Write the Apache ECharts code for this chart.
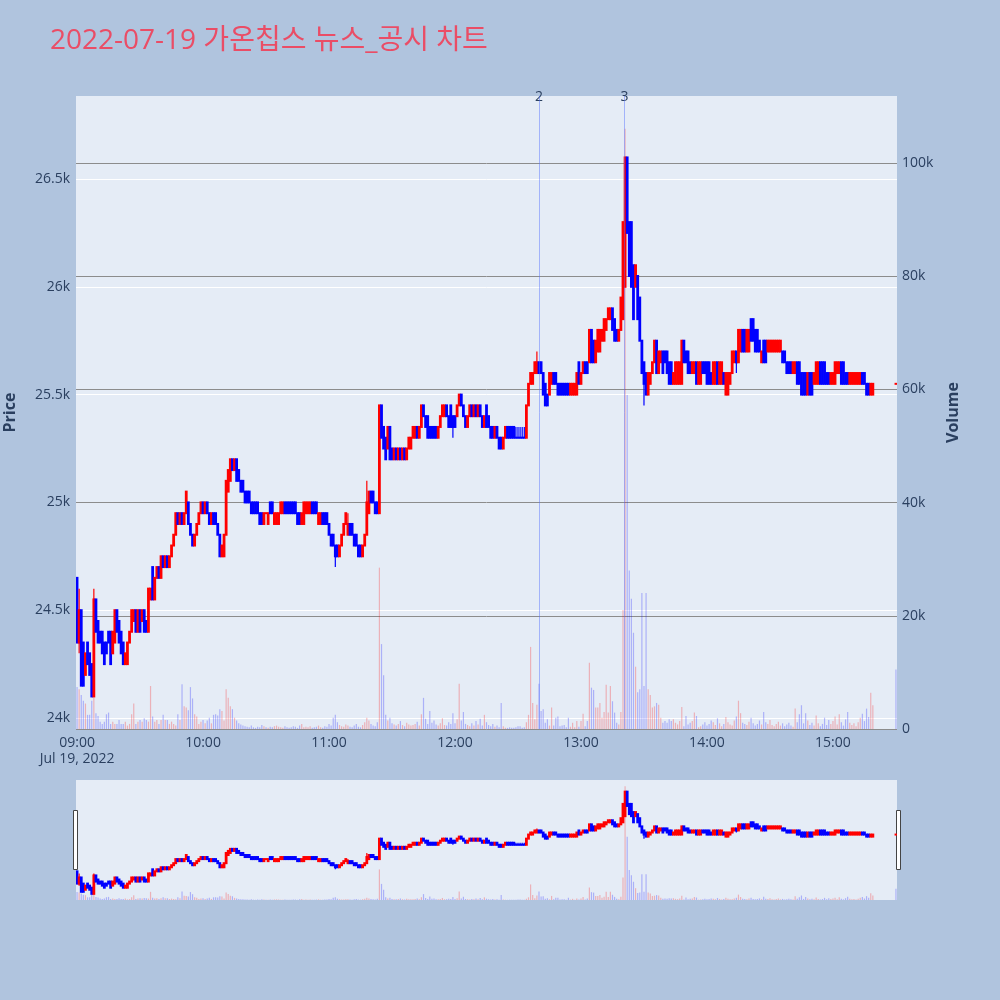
<!DOCTYPE html>
<html>
<head>
<meta charset="utf-8">
<script src="https://cdn.jsdelivr.net/npm/echarts@6/dist/echarts.min.js"></script>
<style>
  html, body { margin: 0; padding: 0; background: #b0c4de; }
  #chart { width: 1000px; height: 1000px; }
</style>
</head>
<body>
<div id="chart"></div>
<script>
// 1분봉, 09:00 ~ 15:19 + 종가 15:30
const times = [];
for (let m = 0; m < 380; m++) {
  const h = 9 + Math.floor(m / 60), mm = m % 60;
  times.push(String(h).padStart(2, '0') + ':' + String(mm).padStart(2, '0'));
}
times.push('15:30');

const opens = [
  24650,24350,24500,24350,24200,24350,24300,24250,24100,24550,
  24450,24400,24400,24350,24350,24400,24400,24300,24350,24500,
  24450,24400,24350,24250,24250,24350,24400,24450,24500,24400,
  24500,24450,24500,24450,24400,24550,24700,24550,24650,24700,
  24650,24750,24700,24750,24700,24750,24800,24850,24950,24900,
  24950,24900,24950,25000,24900,24850,24800,24850,24900,24950,
  25000,24950,25000,24950,24900,24950,24950,24900,24850,24750,
  24750,24850,25050,25100,25200,25150,25200,25150,25100,25100,
  25050,25050,25050,25000,25000,25000,25000,24950,24950,24900,
  24950,24900,25000,25000,24900,24900,24900,24950,24950,25000,
  25000,25000,25000,25000,25000,24950,24950,24900,24900,24950,
  24950,24950,25000,25000,25000,24900,24900,24950,24950,24950,
  24900,24850,24850,24800,24800,24750,24800,24850,24900,24850,
  24900,24900,24850,24850,24800,24800,24750,24800,24850,24950,
  25050,25050,25000,25000,24950,25450,25350,25300,25250,25350,
  25250,25200,25250,25200,25250,25200,25250,25200,25250,25250,
  25300,25300,25350,25300,25350,25450,25400,25400,25350,25350,
  25350,25350,25300,25350,25400,25400,25450,25400,25450,25400,
  25400,25400,25450,25500,25450,25400,25350,25400,25450,25400,
  25450,25400,25450,25400,25350,25450,25400,25350,25350,25300,
  25350,25300,25300,25250,25300,25350,25350,25350,25350,25300,
  25300,25300,25300,25300,25300,25450,25550,25550,25600,25600,
  25650,25650,25600,25550,25500,25500,25550,25600,25600,25550,
  25550,25550,25550,25550,25550,25500,25500,25500,25500,25650,
  25550,25600,25650,25650,25650,25800,25750,25650,25700,25700,
  25750,25750,25800,25850,25850,25900,25850,25800,25750,25800,
  25850,26000,26600,26300,26300,26100,26000,26050,25950,25750,
  25650,25600,25500,25550,25600,25650,25750,25600,25650,25700,
  25700,25700,25650,25650,25550,25550,25550,25550,25550,25750,
  25700,25700,25650,25600,25600,25650,25550,25550,25650,25650,
  25650,25650,25600,25550,25550,25650,25550,25550,25600,25500,
  25500,25550,25600,25650,25700,25650,25700,25800,25800,25700,
  25700,25850,25850,25800,25800,25750,25650,25750,25750,25700,
  25700,25700,25700,25700,25700,25700,25700,25700,25650,25650,
  25650,25600,25600,25650,25650,25600,25600,25600,25500,25600,
  25600,25550,25550,25550,25650,25650,25650,25600,25600,25550,
  25550,25550,25600,25600,25650,25650,25600,25600,25550,25550,
  25550,25550,25550,25550,25600,25600,25550,25550,25500,25500,
  25550
];

const closes = [
  24350,24500,24150,24150,24300,24250,24200,24100,24550,24400,
  24350,24350,24300,24250,24300,24350,24250,24400,24500,24400,
  24350,24300,24250,24300,24350,24400,24500,24500,24400,24500,
  24400,24500,24400,24400,24600,24600,24550,24650,24700,24650,
  24750,24700,24750,24700,24750,24800,24850,24950,24900,24950,
  24900,24950,25050,24900,24850,24800,24850,24900,24950,25000,
  24950,25000,24950,24900,24950,24900,24900,24850,24750,24800,
  24850,25100,25150,25200,25150,25200,25100,25100,25050,25050,
  25000,25000,25000,24950,24950,24950,24950,24900,24900,24950,
  24950,24950,24950,24950,24950,24950,24950,25000,25000,24950,
  24950,24950,24950,24950,24950,24900,24900,24950,25000,25000,
  25000,25000,24950,24950,24950,24950,24950,24900,24900,24900,
  24850,24800,24800,24750,24750,24800,24850,24900,24950,24900,
  24850,24850,24800,24800,24750,24750,24800,24850,25000,25050,
  25000,25000,24950,24950,25450,25300,25250,25200,25350,25200,
  25200,25250,25200,25250,25200,25250,25200,25250,25300,25300,
  25350,25350,25300,25350,25450,25400,25350,25300,25300,25300,
  25300,25300,25350,25400,25450,25450,25400,25350,25350,25350,
  25350,25450,25500,25450,25400,25350,25400,25450,25400,25450,
  25400,25450,25400,25350,25400,25350,25350,25300,25300,25350,
  25300,25250,25250,25300,25350,25300,25300,25300,25300,25300,
  25300,25300,25300,25300,25450,25550,25600,25600,25650,25650,
  25600,25600,25500,25450,25450,25600,25600,25550,25550,25500,
  25500,25500,25500,25500,25500,25550,25550,25550,25600,25550,
  25600,25650,25600,25600,25800,25650,25650,25750,25800,25800,
  25800,25850,25850,25900,25900,25800,25750,25750,25800,25950,
  26300,26600,26250,26050,26000,25850,26100,25850,25750,25600,
  25550,25500,25600,25600,25650,25750,25600,25700,25700,25600,
  25650,25600,25550,25550,25600,25650,25650,25650,25750,25650,
  25650,25600,25600,25650,25650,25550,25650,25650,25600,25600,
  25550,25550,25550,25650,25650,25550,25650,25650,25550,25600,
  25600,25600,25700,25700,25650,25800,25800,25700,25700,25800,
  25800,25750,25750,25700,25700,25700,25700,25650,25650,25750,
  25750,25750,25750,25750,25750,25750,25650,25650,25600,25600,
  25600,25650,25650,25550,25550,25500,25500,25500,25600,25500,
  25500,25600,25650,25650,25550,25550,25550,25550,25550,25600,
  25600,25650,25650,25650,25550,25550,25550,25550,25600,25600,
  25600,25600,25600,25600,25550,25550,25500,25500,25550,25550,
  25550
];

// 꼬리 [index, low, high]
const wicks = [
  [1, 24300, 24600], [8, 24100, 24600], [36, 24550, 24700], [123, 24700, 24800],
  [129, 24850, 24950], [138, 24850, 25100], [179, 25300, 25400],
  [209, 25300, 25350], [210, 25300, 25350], [211, 25300, 25350], [212, 25300, 25350],
  [213, 25300, 25350], [219, 25600, 25700], [270, 25450, 25650], [314, 25600, 25700]
];

const volumes = [
  7400,7000,6000,5000,4500,2500,2500,5000,5500,2800,
  2300,1300,900,1300,2600,2900,900,1300,900,900,
  1600,900,900,1300,600,900,2600,4500,900,1300,
  1600,1300,1900,1600,1300,7600,2200,1300,1600,900,
  1600,2500,1600,1600,900,1300,900,600,2600,1600,
  7900,4000,3800,3300,7400,5400,2600,2200,900,1300,
  1600,1000,1500,2000,1000,2500,2600,2400,3500,3200,
  1500,7000,5500,4000,3500,2000,1500,1000,800,600,
  500,400,300,600,300,200,400,300,700,500,
  300,200,400,300,500,600,400,300,200,500,
  300,200,300,500,400,200,600,900,300,400,
  300,500,200,300,400,600,300,200,500,400,
  900,600,2000,2500,1200,700,500,400,800,600,
  400,300,600,900,400,300,700,1200,2000,1500,
  900,600,500,1200,28500,15000,9500,2500,1500,2000,
  1000,800,600,900,1400,700,500,1100,800,600,
  700,900,1300,600,2600,5500,1800,900,3200,1100,
  1500,800,600,1000,1900,700,600,1200,900,2800,
  1000,1700,8000,1500,3000,900,700,500,1000,600,
  1400,800,1800,600,2500,1200,700,500,900,400,
  600,300,4600,500,200,200,300,200,200,300,
  500,500,200,300,1200,2500,14500,4600,1700,4300,
  8000,3200,3500,1100,1700,600,3800,600,2000,2200,
  500,600,700,300,2000,400,1100,300,1400,400,
  1400,2700,500,1400,11700,7300,6900,3800,3800,4600,
  2000,3000,7800,2900,7600,4900,2900,1100,800,3000,
  21000,106000,59000,28000,23000,17000,11000,6500,7000,24000,
  7600,24000,7000,6000,3800,4000,4600,4300,2000,1100,
  1400,1100,1700,1400,1700,1100,800,1400,3900,500,
  2300,800,1100,1400,2900,2300,300,500,800,1200,
  600,900,1500,1200,700,1900,1000,500,900,2100,
  1200,800,600,1500,2200,5000,2800,1100,900,700,
  1300,2000,1000,600,900,1500,800,3000,1200,900,
  1600,700,500,900,1300,600,1000,500,800,1100,
  600,400,3600,1200,2600,4200,1000,2800,1500,700,
  1100,600,2400,1000,500,900,2000,700,1600,900,
  1400,2200,800,2600,1200,600,1700,3000,1100,700,
  1000,500,1200,2000,2700,1400,3600,2100,6400,4200,
  10500
];

const newsTimes = ['12:40:00', '13:20:40'];
const newsLabels = ['2', '3'];

const xTickLabels = ['09:00', '10:00', '11:00', '12:00', '13:00', '14:00', '15:00'];
const priceTicks = [24000, 24500, 25000, 25500, 26000, 26500];
const volumeTicks = [0, 20000, 40000, 60000, 80000, 100000];

const FONT = '"Open Sans", "Noto Sans CJK KR", sans-serif';
const TEXT = '#2a3f5f';
const UP = '#ff0000';
const DOWN = '#0000ff';

const toMin = t => {
  const [h, m, s] = t.split(':').map(Number);
  return (h - 9) * 60 + m + (s || 0) / 60;
};

const wickMap = {};
wicks.forEach(([i, lo, hi]) => { wickMap[i] = [lo, hi]; });

// 캔들 / 거래량 데이터
const candleData = [];
const candleColors = [];
const volumeData = [];
let prevDir = 1;
times.forEach((t, i) => {
  const x = toMin(t);
  const o = opens[i], c = closes[i];
  const w = wickMap[i];
  const lo = Math.min(o, c, w ? w[0] : Infinity);
  const hi = Math.max(o, c, w ? w[1] : -Infinity);
  const dir = c > o ? 1 : c < o ? -1 : prevDir;
  prevDir = dir;
  candleData.push([x, o, c, lo, hi]);
  candleColors.push(dir > 0 ? UP : DOWN);
  volumeData.push({
    value: [x, volumes[i]],
    itemStyle: { color: c > o ? 'rgba(255,0,0,0.25)' : 'rgba(0,0,255,0.25)' }
  });
});

// plotly 스타일 캔들 (몸통 + 꼬리)
const renderCandle = (params, api) => {
  const x = api.value(0);
  const pO = api.coord([x, api.value(1)]);
  const pC = api.coord([x, api.value(2)]);
  const pL = api.coord([x, api.value(3)]);
  const pH = api.coord([x, api.value(4)]);
  const col = candleColors[params.dataIndex];
  const top = Math.min(pO[1], pC[1]);
  const bot = Math.max(pO[1], pC[1]);
  return {
    type: 'group',
    children: [
      { type: 'line', shape: { x1: pO[0], y1: pH[1], x2: pO[0], y2: pL[1] }, style: { stroke: col, lineWidth: 1.2 } },
      { type: 'rect', shape: { x: pO[0] - 1.4, y: top - 1, width: 2.8, height: bot - top + 2 }, style: { fill: col } }
    ]
  };
};

const X_MIN = -0.5, X_MAX = 390.5;
const P_MIN = 23949, P_MAX = 26885;
const V_MAX = 111800;

const chart = echarts.init(document.getElementById('chart'));

const option = {
  animation: false,
  backgroundColor: '#b0c4de',
  textStyle: { fontFamily: FONT },
  title: {
    text: '2022-07-19 가온칩스 뉴스_공시 차트',
    left: 50,
    top: 27,
    padding: 0,
    textStyle: { color: '#ea4d66', fontSize: 28, fontWeight: 'normal', fontFamily: FONT }
  },
  grid: [
    { left: 76, top: 96, width: 821, height: 633, show: true, backgroundColor: '#e5ecf6', borderWidth: 0, containLabel: false, outerBoundsMode: 'none' },
    { left: 76, top: 780, width: 821, height: 120, show: true, backgroundColor: '#e5ecf6', borderWidth: 0, containLabel: false, outerBoundsMode: 'none' }
  ],
  xAxis: [
    {
      type: 'value', gridIndex: 0, min: X_MIN, max: X_MAX,
      axisLine: { show: false },
      axisTick: { show: false, customValues: xTickLabels.map(toMin) },
      splitLine: { show: false },
      axisLabel: {
        customValues: xTickLabels.map(toMin),
        color: TEXT, fontSize: 14, lineHeight: 16, margin: 6, fontFamily: FONT,
        formatter: v => {
          const h = 9 + Math.floor(v / 60), mm = Math.round(v % 60);
          const s = String(h).padStart(2, '0') + ':' + String(mm).padStart(2, '0');
          return v === 0 ? s + '\nJul 19, 2022' : s;
        }
      }
    },
    { type: 'value', gridIndex: 1, min: X_MIN, max: X_MAX, show: false }
  ],
  yAxis: [
    {
      type: 'value', gridIndex: 0, position: 'left', min: P_MIN, max: P_MAX,
      name: 'Price', nameLocation: 'middle', nameGap: 58,
      nameTextStyle: { color: TEXT, fontSize: 16, fontWeight: 'bold', fontFamily: FONT },
      axisLine: { show: false },
      axisTick: { show: false, customValues: priceTicks },
      axisLabel: {
        customValues: priceTicks, color: TEXT, fontSize: 14, margin: 6, fontFamily: FONT,
        formatter: v => v / 1000 + 'k'
      },
      splitLine: { show: true, lineStyle: { color: '#ffffff', width: 1 } }
    },
    {
      type: 'value', gridIndex: 0, position: 'right', min: 0, max: V_MAX,
      name: 'Volume', nameLocation: 'middle', nameGap: 48,
      nameTextStyle: { color: TEXT, fontSize: 16, fontWeight: 'bold', fontFamily: FONT },
      axisLine: { show: false },
      axisTick: { show: false, customValues: volumeTicks },
      axisLabel: {
        customValues: volumeTicks, color: TEXT, fontSize: 14, margin: 5, fontFamily: FONT,
        formatter: v => (v === 0 ? '0' : v / 1000 + 'k')
      },
      splitLine: { show: true, lineStyle: { color: '#8c8c8c', width: 1 } }
    },
    { type: 'value', gridIndex: 1, min: P_MIN, max: P_MAX, show: false },
    { type: 'value', gridIndex: 1, min: 0, max: V_MAX, show: false }
  ],
  series: [
    {
      name: 'candle', type: 'custom', xAxisIndex: 0, yAxisIndex: 0,
      data: candleData, encode: { x: 0, y: [1, 2, 3, 4] },
      renderItem: renderCandle,
      clip: true,
      markLine: {
        silent: true, symbol: ['none', 'none'], animation: false,
        label: { show: false },
        lineStyle: { color: 'rgba(80,110,255,0.45)', width: 1, type: 'solid' },
        data: newsTimes.map(t => ({ xAxis: toMin(t) }))
      }
    },
    {
      name: 'volume', type: 'bar', xAxisIndex: 0, yAxisIndex: 1,
      data: volumeData, barWidth: 1.2
    },
    {
      name: 'candle-slider', type: 'custom', xAxisIndex: 1, yAxisIndex: 2,
      data: candleData, encode: { x: 0, y: [1, 2, 3, 4] },
      renderItem: renderCandle,
      clip: true
    },
    {
      name: 'volume-slider', type: 'bar', xAxisIndex: 1, yAxisIndex: 3,
      data: volumeData, barWidth: 1.2
    }
  ],
  graphic: [
    { type: 'rect', shape: { x: 73.5, y: 810.5, width: 4, height: 59 }, style: { fill: '#fff', stroke: '#444', lineWidth: 1 } },
    { type: 'rect', shape: { x: 896.5, y: 810.5, width: 4, height: 59 }, style: { fill: '#fff', stroke: '#444', lineWidth: 1 } }
  ]
};

chart.setOption(option);

// 뉴스 번호 라벨
const newsText = newsTimes.map((t, i) => ({
  type: 'text',
  x: chart.convertToPixel({ xAxisIndex: 0 }, toMin(t)),
  y: 97,
  style: { text: newsLabels[i], fill: TEXT, font: '14px ' + FONT, align: 'center', verticalAlign: 'middle' }
}));
chart.setOption({ graphic: option.graphic.concat(newsText) });
</script>
</body>
</html>
